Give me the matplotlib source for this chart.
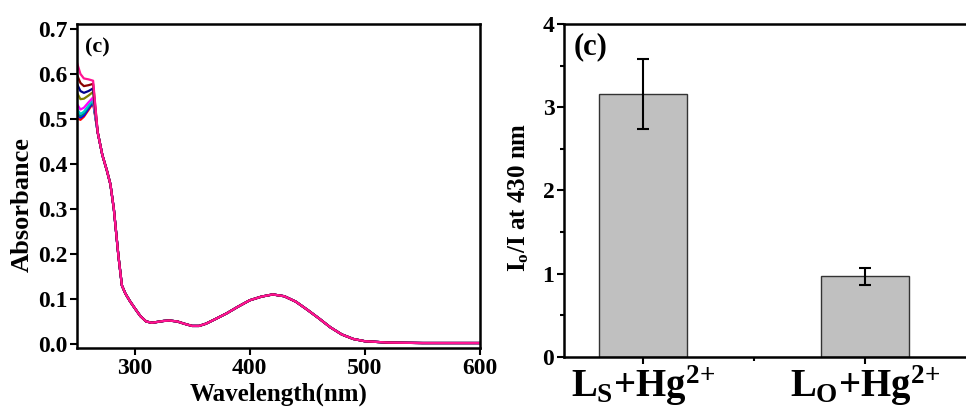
import numpy as np
import matplotlib
matplotlib.use('Agg')
import matplotlib.pyplot as plt

plt.rcParams['font.family'] = 'Liberation Serif'
plt.rcParams['font.weight'] = 'bold'
plt.rcParams['mathtext.fontset'] = 'custom'
plt.rcParams['mathtext.rm'] = 'Liberation Serif:bold'
plt.rcParams['mathtext.bf'] = 'Liberation Serif:bold'
plt.rcParams['mathtext.it'] = 'Liberation Serif:bold'

# UV-vis spectra: each series has its own start (250-264 nm), shared tail after
head_wl = [250, 253, 256, 260, 264]
heads = {
    '#ff1493': [0.625, 0.600, 0.590, 0.588, 0.585],
    '#8b0000': [0.598, 0.580, 0.573, 0.575, 0.578],
    '#00008b': [0.578, 0.562, 0.558, 0.562, 0.568],
    '#808000': [0.558, 0.544, 0.545, 0.552, 0.560],
    '#ff00ff': [0.533, 0.521, 0.525, 0.537, 0.548],
    '#00cccc': [0.522, 0.511, 0.516, 0.530, 0.543],
    '#008080': [0.515, 0.506, 0.512, 0.527, 0.540],
    '#0000ff': [0.510, 0.503, 0.508, 0.523, 0.538],
    '#ff0000': [0.502, 0.498, 0.505, 0.520, 0.535],
}
draw_order = ['#ff0000', '#0000ff', '#008080', '#00cccc', '#ff00ff',
              '#808000', '#00008b', '#8b0000', '#ff1493']
tail_wl = [268, 272, 276, 279, 282, 286, 289, 292, 296, 300, 305, 310, 315,
           320, 325, 330, 337, 343, 350, 356, 362, 370, 380, 390, 400, 410,
           420, 430, 440, 450, 460, 470, 480, 490, 500, 520, 550, 600]
tail_abs = [0.470, 0.420, 0.385, 0.355, 0.300, 0.195, 0.130, 0.112, 0.095,
            0.080, 0.062, 0.050, 0.047, 0.049, 0.051, 0.052, 0.050, 0.045,
            0.040, 0.040, 0.045, 0.055, 0.068, 0.083, 0.097, 0.105, 0.110,
            0.106, 0.094, 0.076, 0.057, 0.037, 0.021, 0.011, 0.006, 0.003,
            0.002, 0.002]

# bar chart
bar_labels = ['$L_S$+Hg$^{2\\!+}$', '$L_O$+Hg$^{2\\!+}$']
bar_vals = [3.16, 0.97]
bar_errs = [0.42, 0.10]

fig = plt.figure(figsize=(9.66, 4.19), dpi=100)

# ---- left: absorbance spectra
ax1 = fig.add_axes([0.0797, 0.1695, 0.4172, 0.7732])
for c in draw_order:
    ax1.plot(head_wl + tail_wl, heads[c] + tail_abs, color=c, lw=1.6)
ax1.set_xlim(250, 600)
ax1.set_ylim(-0.009, 0.711)
ax1.set_xticks([300, 400, 500, 600])
ax1.set_yticks([0.0, 0.1, 0.2, 0.3, 0.4, 0.5, 0.6, 0.7])
ax1.set_yticklabels(['0.0', '0.1', '0.2', '0.3', '0.4', '0.5', '0.6', '0.7'])
ax1.set_xlabel('Wavelength(nm)', fontsize=18, fontweight='bold', labelpad=3)
ax1.set_ylabel('Absorbance', fontsize=19, fontweight='bold', labelpad=3)
ax1.yaxis.label.set_y(0.444)
ax1.text(0.02, 0.929, '(c)', transform=ax1.transAxes, fontsize=16,
         fontweight='bold', va='center')
ax1.tick_params(direction='out', length=5, width=1.5, labelsize=17, pad=2)

# ---- right: bar chart (right edge runs past the figure)
ax2 = fig.add_axes([0.5839, 0.148, 0.4725, 0.7947])
x = [1, 2]
ax2.bar(x, bar_vals, width=0.4, color='#c0c0c0', edgecolor='#333333', lw=1)
ax2.errorbar(x, bar_vals, yerr=bar_errs, fmt='none', ecolor='black',
             elinewidth=1.5, capsize=4, capthick=1.5)
ax2.set_xlim(0.644, 2.7)
ax2.set_ylim(0, 4)
ax2.set_yticks([0, 1, 2, 3, 4])
ax2.set_yticks([0.5, 1.5, 2.5, 3.5], minor=True)
ax2.set_xticks(x)
ax2.set_xticks([1.5], minor=True)
ax2.set_xticklabels(bar_labels)
ax2.set_ylabel('I$_\\mathrm{o}$/I at 430 nm', fontsize=18, fontweight='bold',
               labelpad=8)
ax2.yaxis.label.set_y(0.48)
ax2.text(0.02, 0.931, '(c)', transform=ax2.transAxes, fontsize=22,
         fontweight='bold', va='center')
ax2.tick_params(which='major', direction='out', length=5, width=1.5,
                labelsize=17, pad=2)
ax2.tick_params(which='minor', direction='out', length=3, width=1.5)
ax2.tick_params(axis='x', labelsize=28, pad=0)

for ax in (ax1, ax2):
    for s in ax.spines.values():
        s.set_linewidth(1.8)

fig.savefig('out.png', dpi=100)
